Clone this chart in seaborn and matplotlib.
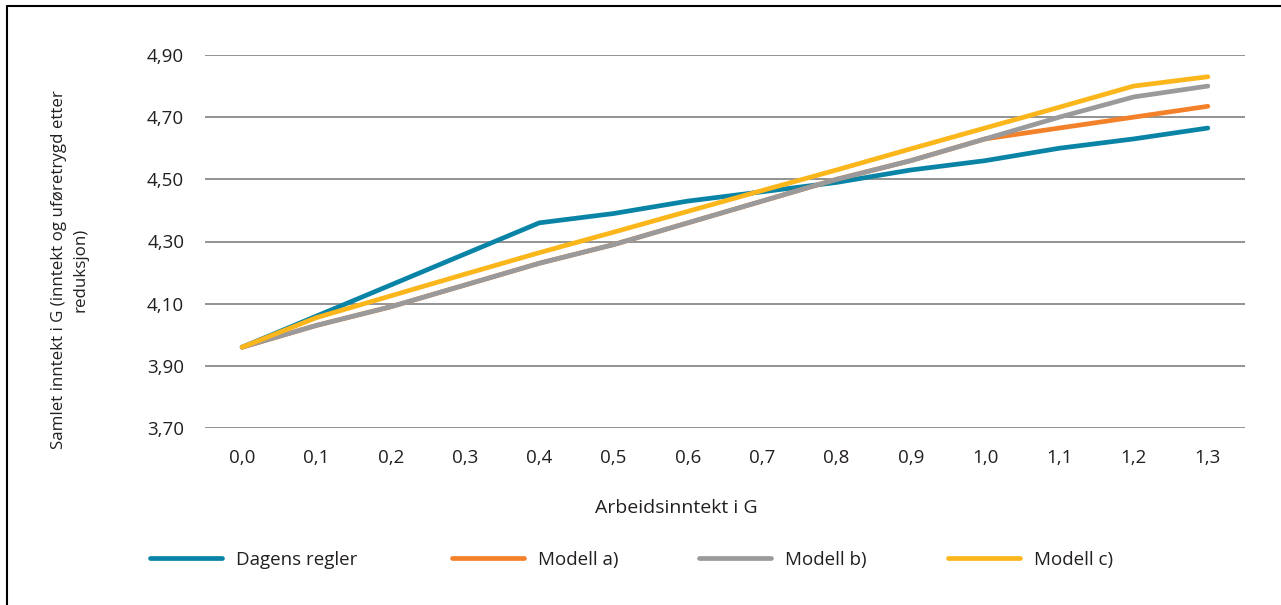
import matplotlib
matplotlib.use("Agg")
import matplotlib.pyplot as plt
import seaborn as sns
import pandas as pd
from matplotlib.lines import Line2D

# Earned income (in G) along the x axis
categories = ["0,0", "0,1", "0,2", "0,3", "0,4", "0,5", "0,6",
              "0,7", "0,8", "0,9", "1,0", "1,1", "1,2", "1,3"]

# Total income in G (income and disability benefit after reduction)
dagens_regler = [3.96, 4.06, 4.16, 4.26, 4.36, 4.39, 4.43,
                 4.46, 4.49, 4.53, 4.56, 4.60, 4.63, 4.665]
modell_a = [3.96, 4.03, 4.09, 4.16, 4.23, 4.29, 4.36,
            4.43, 4.50, 4.56, 4.63, 4.665, 4.70, 4.735]
modell_b = [3.96, 4.03, 4.09, 4.16, 4.23, 4.29, 4.36,
            4.43, 4.50, 4.56, 4.63, 4.70, 4.765, 4.80]
modell_c = [3.96, 4.055, 4.125, 4.195, 4.264, 4.33, 4.397,
            4.464, 4.53, 4.598, 4.665, 4.732, 4.80, 4.83]

series_names = ["Dagens regler", "Modell a)", "Modell b)", "Modell c)"]
series_values = [dagens_regler, modell_a, modell_b, modell_c]
colors = ["#0a84a6", "#f3812a", "#9a9a9c", "#fbb61b"]

y_ticks = [3.70, 3.90, 4.10, 4.30, 4.50, 4.70, 4.90]
y_tick_labels = ["3,70", "3,90", "4,10", "4,30", "4,50", "4,70", "4,90"]

rows = []
for name, vals in zip(series_names, series_values):
    for cat, v in zip(categories, vals):
        rows.append({"x": cat, "y": v, "serie": name})
df = pd.DataFrame(rows)

sns.set_theme(style="white")
plt.rcParams["font.family"] = ["Open Sans", "DejaVu Sans"]
plt.rcParams["text.color"] = "#231f20"

W, H = 1281, 605
fig = plt.figure(figsize=(W / 100, H / 100), dpi=100)
ax = fig.add_axes([205 / W, 1 - 428 / H, (1245 - 205) / W, (428 - 55) / H])

palette = dict(zip(series_names, colors))
sns.lineplot(data=df, x="x", y="y", hue="serie", hue_order=series_names,
             palette=palette, sort=False, linewidth=3.4, ax=ax,
             legend=False, solid_capstyle="round", solid_joinstyle="round")

ax.set_xlim(-0.5, len(categories) - 0.5)
ax.set_ylim(3.70, 4.90)
ax.set_yticks(y_ticks)
ax.set_yticklabels(y_tick_labels)
ax.set_xticks(range(len(categories)))
ax.set_xticklabels(categories)
ax.tick_params(axis="both", length=0, labelsize=13.5, colors="#231f20")
ax.tick_params(axis="x", pad=15)
ax.tick_params(axis="y", pad=15)
ax.yaxis.grid(True, color="#808080", linewidth=1.2)
ax.set_axisbelow(True)
for s in ax.spines.values():
    s.set_visible(False)
ax.set_xlabel("")
ax.set_ylabel("")

fig.text(676 / W, 1 - 508 / H, "Arbeidsinntekt i G", ha="center", va="center",
         fontsize=14, color="#231f20")
fig.text(70 / W, 1 - 270 / H,
         "Samlet inntekt i G (inntekt og uføretrygd etter\nreduksjon)",
         ha="center", va="center", rotation=90, fontsize=12.2, color="#231f20",
         multialignment="center", linespacing=1.45)

# Legend entries laid out in one row below the axis title
legend_x = [150, 452, 699, 948]
for name, c, lx in zip(series_names, colors, legend_x):
    h = Line2D([0], [0], color=c, lw=3.4, solid_capstyle="round")
    fig.legend([h], [name], loc="center left",
               bbox_to_anchor=(lx / W, 1 - 560 / H), frameon=False,
               fontsize=13.5, handlelength=3.85, handletextpad=0.75,
               borderpad=0, borderaxespad=0)

# Frame around the figure (top and left edges)
fig.add_artist(Line2D([7 / W, 1], [1 - 6 / H, 1 - 6 / H],
                      transform=fig.transFigure, color="black", lw=1.5))
fig.add_artist(Line2D([7 / W, 7 / W], [0, 1 - 6 / H],
                      transform=fig.transFigure, color="black", lw=1.5))

fig.savefig("out.png", dpi=100)
